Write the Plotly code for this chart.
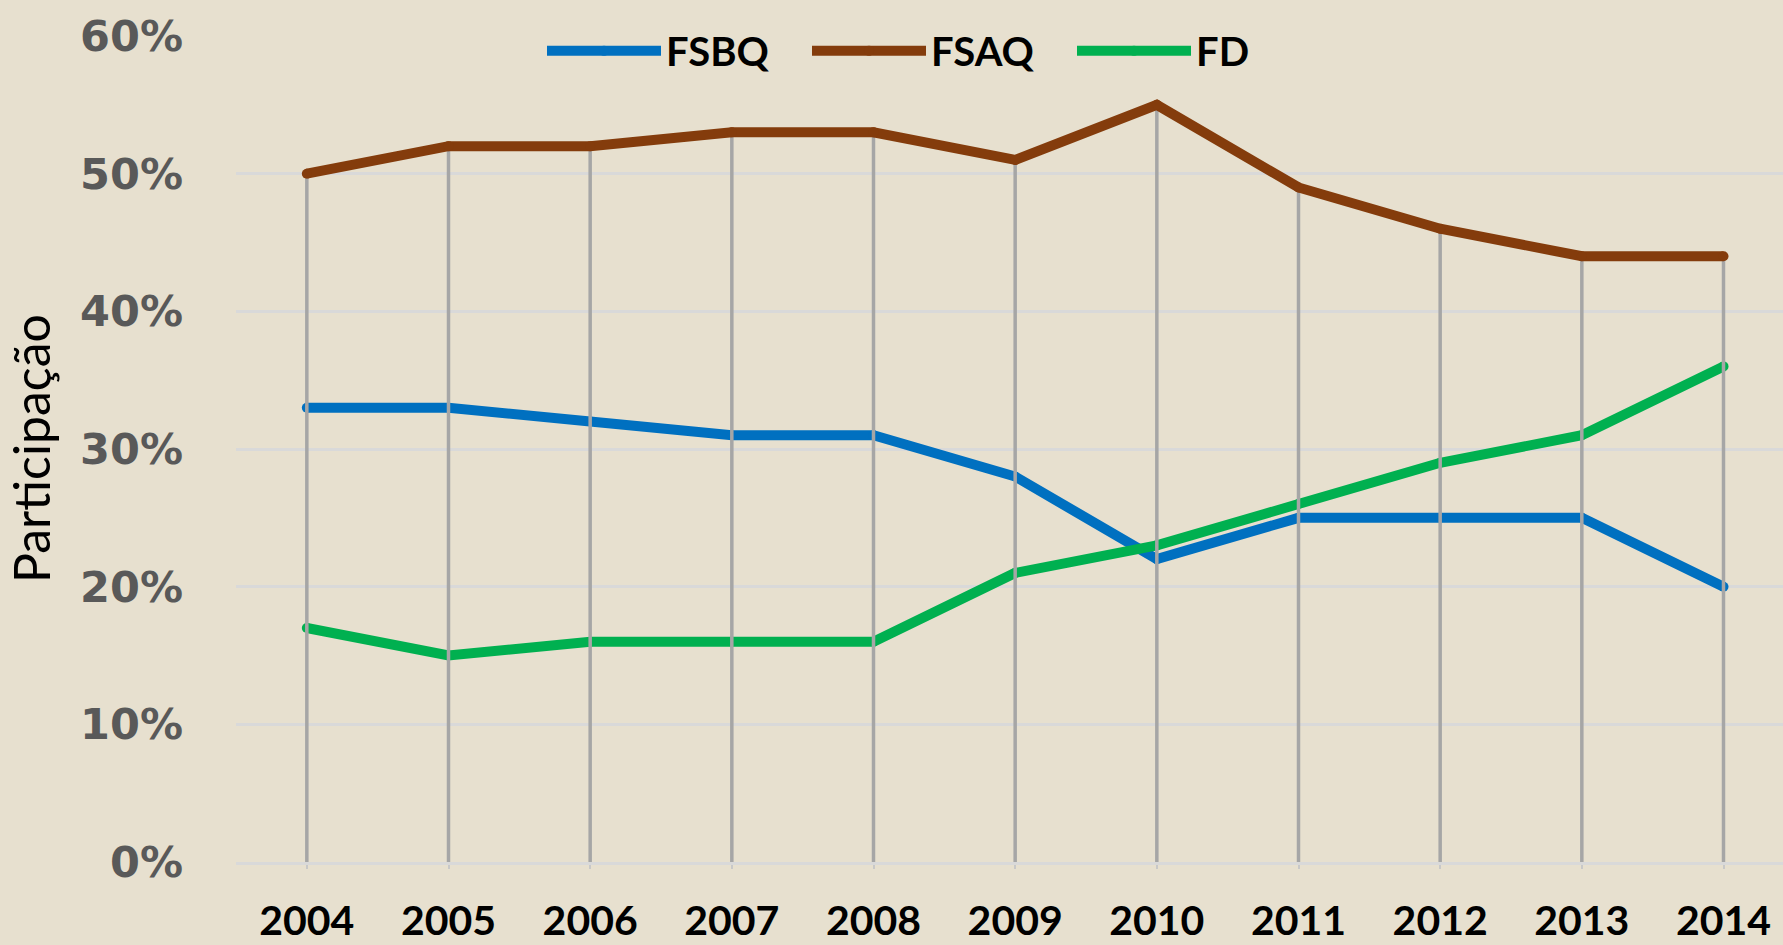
import plotly.graph_objects as go
import numpy as np

years = ["2004", "2005", "2006", "2007", "2008", "2009", "2010", "2011", "2012", "2013", "2014"]
fsbq = [0.33, 0.33, 0.32, 0.31, 0.31, 0.28, 0.22, 0.25, 0.25, 0.25, 0.20]
fsaq = [0.50, 0.52, 0.52, 0.53, 0.53, 0.51, 0.55, 0.49, 0.46, 0.44, 0.44]
fd = [0.17, 0.15, 0.16, 0.16, 0.16, 0.21, 0.23, 0.26, 0.29, 0.31, 0.36]
y_ticks = [0, 0.1, 0.2, 0.3, 0.4, 0.5, 0.6]
y_tick_labels = ["0%", "10%", "20%", "30%", "40%", "50%", "60%"]

BLUE = "#0070C0"
BROWN = "#843C0C"
GREEN = "#00B050"
BG = "#E7E0CF"
LW = 10

def series(name, vals, color, rank):
    return go.Scatter(
        x=years, y=vals, name=name, mode="lines+markers",
        line=dict(color=color, width=LW),
        marker=dict(color=color, size=LW, line=dict(width=0)),
        legendrank=rank, hoverinfo="skip",
    )

# drop lines from the highest point down to the axis
tops = np.max(np.array([fsbq, fsaq, fd]), axis=0)
dx, dy = [], []
for yr, t in zip(years, tops):
    dx += [yr, yr, None]
    dy += [0, float(t), None]

fig = go.Figure()
fig.add_trace(series("FSBQ", fsbq, BLUE, 1))
fig.add_trace(series("FD", fd, GREEN, 3))
fig.add_trace(go.Scatter(x=dx, y=dy, mode="lines", showlegend=False,
                         line=dict(color="#A6A6A6", width=3.5), hoverinfo="skip"))
fig.add_trace(series("FSAQ", fsaq, BROWN, 2))

fig.update_layout(
    width=1783, height=945,
    margin=dict(l=236, r=0, t=36, b=83, autoexpand=False),
    paper_bgcolor=BG,
    plot_bgcolor=BG,
    showlegend=True,
    legend=dict(
        orientation="h", x=(542 - 236) / 1547, xanchor="left", y=0.982, yanchor="middle",
        font=dict(family="Lato", size=40, color="black", weight="bold"),
        bgcolor="rgba(0,0,0,0)", itemwidth=114, traceorder="normal",
        entrywidth=136, entrywidthmode="pixels",
    ),
    xaxis=dict(
        type="category", range=[-0.5, 10.42], automargin=False,
        showgrid=False, zeroline=False,
        showline=True, linecolor="#D9D9D9", linewidth=3,
        ticks="outside", ticklen=4, tickcolor="#C8C8C8", tickwidth=2,
        tickfont=dict(family="Lato", size=41, color="black", weight="bold"),
        ticklabelstandoff=17,
    ),
    yaxis=dict(
        range=[0, 0.6], tickvals=y_ticks, ticktext=y_tick_labels, automargin=False,
        showgrid=True, gridcolor="#D9D9D9", gridwidth=3,
        zeroline=False, showline=False, ticks="",
        tickfont=dict(family="DejaVu Sans", size=43, color="#595959", weight="bold"),
        ticklabelstandoff=52,
    ),
    annotations=[dict(
        text="Participação", xref="paper", yref="paper",
        x=(31 - 236) / 1547, y=0.5, xanchor="center", yanchor="middle",
        textangle=-90, showarrow=False,
        font=dict(family="Lato", size=50, color="black"),
    )],
)

fig.write_html(
    "out.html",
    config={"displayModeBar": False},
    post_script="document.body.style.margin='0';document.body.style.background='%s';" % BG,
)
